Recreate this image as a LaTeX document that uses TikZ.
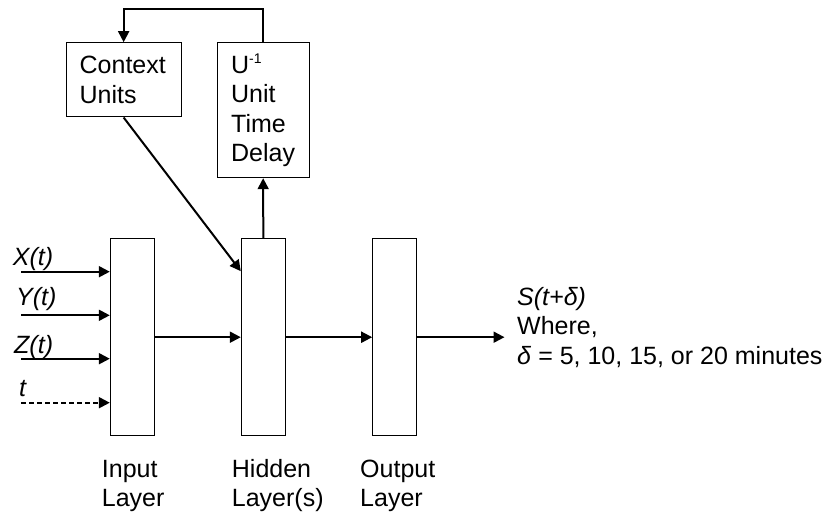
\documentclass[tikz,border=0pt]{standalone}
\usepackage{fontspec}
\setmainfont{Liberation Sans}
\usetikzlibrary{arrows.meta,calc}
\begin{document}
\begin{tikzpicture}[x=1pt,y=-1pt,
  every node/.style={font=\fontsize{25}{29.4}\selectfont},
  box/.style={draw, line width=1pt, inner sep=0pt},
  layer/.style={box, minimum width=44pt, minimum height=197pt},
  arr/.style={line width=2pt, -{Triangle[length=11pt,width=11pt]}},
  lbl/.style={inner sep=0pt, anchor=base west, align=left},
  ]
\useasboundingbox (0,0) rectangle (835,516);
\node[layer] (inl) at (132.3,337.2) {};
\node[layer] (hid) at (263.3,337.2) {};
\node[layer] (outl) at (394.7,337.2) {};
\node[box, minimum width=114.7pt, minimum height=74.3pt, text width=88pt, align=left, inner xsep=13.3pt] (ctx) at (123.65,79.85) {Context\\Units};
\node[box, minimum width=92.3pt, minimum height=135pt, text width=64pt, align=left, inner xsep=14pt] (ud) at (263.15,110.2) {U\raisebox{0.42em}{\fontsize{14}{14}\selectfont -1}\\Unit\\Time\\Delay};

\draw[arr] (ud.north) -- ++(0,-33) -| (ctx.north);
\draw[arr] (ctx.south) -- ($(hid.north west)+(0,33)$);
\draw[arr] (hid.north) -- (ud.south);
\draw[arr] (inl.east) -- (hid.west);
\draw[arr] (hid.east) -- (outl.west);
\coordinate (sout) at (504.5,337.2);
\draw[arr] (outl.east) -- (sout);

\coordinate (xs) at (21.3,271.7);
\coordinate (ys) at (21.3,315.3);
\coordinate (zs) at (21.3,358.7);
\coordinate (ts) at (21.3,402.7);
\draw[arr] (xs) -- (xs -| inl.west);
\draw[arr] (ys) -- (ys -| inl.west);
\draw[arr] (zs) -- (zs -| inl.west);
\draw[arr, dash pattern=on 5pt off 3pt] (ts) -- (ts -| inl.west);

\node[lbl] (xl) at (12.7,265) {\textit{X(t)}};
\node[lbl] (yl) at (16,305) {\textit{Y(t)}};
\node[lbl] (zl) at (14,353.3) {\textit{Z(t)}};
\node[lbl] (tl) at (19,396.7) {\textit{t}};

\node[lbl] (inlab) at (101.7,506.7) {Input\\Layer};
\node[lbl] (hidlab) at (231.7,506.7) {Hidden\\Layer(s)};
\node[lbl] (outlab) at (360,506.7) {Output\\Layer};

\node[lbl] (res) at (517,364) {\textit{S(t+δ)}\\Where,\\\textit{δ} = 5, 10, 15, or 20 minutes};
\end{tikzpicture}
\end{document}
